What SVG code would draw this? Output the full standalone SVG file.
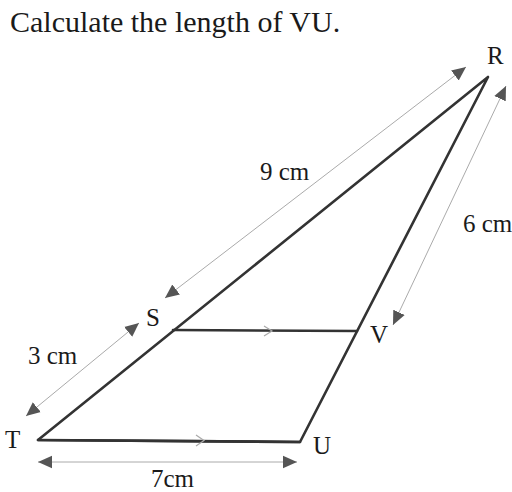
<svg xmlns="http://www.w3.org/2000/svg" width="512" height="492" viewBox="0 0 512 492">
<defs>
<marker id="ah" viewBox="0 0 10 10" refX="10" refY="5" markerWidth="14" markerHeight="14" markerUnits="userSpaceOnUse" orient="auto-start-reverse">
<path d="M0,0.5 L10,5 L0,9.5 Z" fill="#555"/>
</marker>
<style>
.t{font-family:"Liberation Serif","Times New Roman",serif;fill:#1a1a1a}
.edge{stroke:#333;stroke-width:2.6;fill:none;stroke-linejoin:round;stroke-linecap:round}
.dim{stroke:#aaa;stroke-width:1;fill:none;marker-start:url(#ah);marker-end:url(#ah)}
.tick{stroke:#aaa;stroke-width:1.2;fill:none}
</style>
</defs>
<rect width="512" height="492" fill="#fff"/>
<text class="t" x="10" y="32" font-size="30">Calculate the length of VU.</text>
<g id="triangle">
<path class="edge" d="M38,440 L488,77 L300,442 Z"/>
<path class="edge" d="M38,440 L300,442"/>
<path class="edge" d="M173,330 L357,331"/>
</g>
<g id="connectors">
<line class="dim" x1="165" y1="298" x2="466" y2="67"/>
<line class="dim" x1="393" y1="325" x2="506" y2="86"/>
<line class="dim" x1="26" y1="416" x2="139" y2="323"/>
<line class="dim" x1="38" y1="462" x2="297" y2="462"/>
<path class="tick" d="M264,326 L272,331 L264,336"/>
<path class="tick" d="M196,435 L204,440.5 L196,446"/>
</g>
<g id="node-R"><text class="t" x="487" y="64" font-size="25">R</text></g>
<g id="node-S"><text class="t" x="146" y="326" font-size="25">S</text></g>
<g id="node-V"><text class="t" x="370" y="343" font-size="25">V</text></g>
<g id="node-T"><text class="t" x="5" y="448" font-size="25">T</text></g>
<g id="node-U"><text class="t" x="313" y="454" font-size="25">U</text></g>
<g id="labels">
<text class="t" x="260" y="180" font-size="25">9 cm</text>
<text class="t" x="463" y="232" font-size="25">6 cm</text>
<text class="t" x="28" y="364" font-size="25">3 cm</text>
<text class="t" x="151" y="487" font-size="25">7cm</text>
</g>
</svg>
